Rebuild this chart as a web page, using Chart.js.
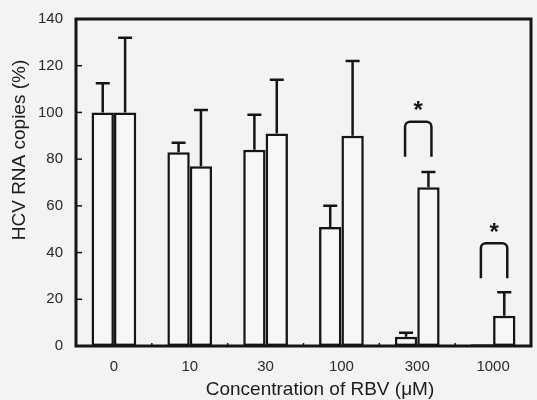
<!DOCTYPE html>
<html>
<head>
<meta charset="utf-8">
<script src="https://cdn.jsdelivr.net/npm/chart.js@4.4.0/dist/chart.umd.min.js"></script>
<style>
  html, body { margin: 0; padding: 0; background: #f3f3f2; }
  #wrap { width: 537px; height: 400px; position: relative; }
</style>
</head>
<body>
<div id="wrap"><canvas id="chart"></canvas></div>
<script>
// RBV concentrations (uM)
const categories = ['0', '10', '30', '100', '300', '1000'];
// left bars / right bars, mean % and upper error (SD)
const meanA = [100, 83, 84, 51, 4, 0.8];
const sdA = [12.5, 4, 15, 9, 1.7, 0];
const meanB = [100, 77, 91, 90, 68, 13];
const sdB = [32, 24, 23, 32, 6.5, 10];
const yTicks = [0, 20, 40, 60, 80, 100, 120, 140];
// significance brackets
const sigCategory = ['300', '1000'];
const sigTop = [96, 44];
const sigLeg = [81, 29];

const yTitle = 'HCV RNA copies (%)';
const xTitle = 'Concentration of RBV (\u03bcM)';
const ink = '#151515';
const fontFam = '"Liberation Sans", Arial, sans-serif';

const extras = {
  id: 'extras',
  afterDatasetsDraw(chart) {
    const ctx = chart.ctx;
    const y = chart.scales.y;
    const x = chart.scales.x;
    const area = chart.chartArea;
    ctx.save();
    ctx.strokeStyle = ink;
    ctx.lineWidth = 2.5;
    // error bars (upper only)
    [sdA, sdB].forEach((sd, di) => {
      const means = chart.data.datasets[di].data;
      chart.getDatasetMeta(di).data.forEach((bar, i) => {
        if (!sd[i]) return;
        const top = y.getPixelForValue(means[i] + sd[i]);
        ctx.beginPath();
        ctx.moveTo(bar.x, bar.y);
        ctx.lineTo(bar.x, top);
        ctx.moveTo(bar.x - 7, top);
        ctx.lineTo(bar.x + 7, top);
        ctx.stroke();
      });
    });
    // brackets + stars
    sigCategory.forEach((cat, k) => {
      const i = categories.indexOf(cat);
      const x1 = chart.getDatasetMeta(0).data[i].x - 1;
      const x2 = chart.getDatasetMeta(1).data[i].x + 3;
      const yt = y.getPixelForValue(sigTop[k]);
      const yl = y.getPixelForValue(sigLeg[k]);
      ctx.lineWidth = 2.5;
      ctx.beginPath();
      ctx.moveTo(x1, yl);
      ctx.arcTo(x1, yt, x2, yt, 5);
      ctx.arcTo(x2, yt, x2, yl, 5);
      ctx.lineTo(x2, yl);
      ctx.stroke();
      ctx.fillStyle = ink;
      ctx.font = 'bold 24px ' + fontFam;
      ctx.textAlign = 'center';
      ctx.textBaseline = 'middle';
      ctx.fillText('*', (x1 + x2) / 2, yt - 10);
    });
    // frame
    ctx.lineWidth = 3;
    ctx.strokeRect(area.left, area.top, area.right - area.left, area.bottom - area.top);
    // inner ticks
    ctx.lineWidth = 1.5;
    yTicks.forEach(v => {
      const py = y.getPixelForValue(v);
      ctx.beginPath();
      ctx.moveTo(area.left, py);
      ctx.lineTo(area.left + 6, py);
      ctx.stroke();
    });
    for (let i = 1; i < categories.length; i++) {
      const px = (x.getPixelForValue(i - 1) + x.getPixelForValue(i)) / 2;
      ctx.beginPath();
      ctx.moveTo(px, area.bottom);
      ctx.lineTo(px, area.bottom - 3);
      ctx.stroke();
    }
    // axis titles
    ctx.fillStyle = '#1c1c1c';
    ctx.font = '19px ' + fontFam;
    ctx.textAlign = 'center';
    ctx.textBaseline = 'middle';
    ctx.fillText(xTitle, 320, 390);
    ctx.translate(20, 150);
    ctx.rotate(-Math.PI / 2);
    ctx.fillText(yTitle, 0, 0);
    ctx.restore();
  }
};

new Chart(document.getElementById('chart'), {
  type: 'bar',
  data: {
    labels: categories,
    datasets: [
      { data: meanA, backgroundColor: 'rgba(250,250,250,0.6)', borderColor: ink, borderWidth: 2.5, borderSkipped: false },
      { data: meanB, backgroundColor: 'rgba(250,250,250,0.6)', borderColor: ink, borderWidth: 2.5, borderSkipped: false }
    ]
  },
  options: {
    responsive: true,
    maintainAspectRatio: false,
    animation: false,
    layout: { padding: { left: 0, right: 6, top: 19, bottom: 0 } },
    plugins: { legend: { display: false }, tooltip: { enabled: false } },
    datasets: { bar: { barPercentage: 1, categoryPercentage: 0.59 } },
    scales: {
      x: {
        grid: { display: false },
        border: { display: false },
        ticks: { color: '#2a2a2a', font: { size: 15, family: fontFam }, padding: 4 },
        afterFit(scale) { scale.height = 54; }
      },
      y: {
        min: 0,
        max: 140,
        grid: { display: false },
        border: { display: false },
        afterBuildTicks(scale) { scale.ticks = yTicks.map(v => ({ value: v })); },
        ticks: { color: '#2a2a2a', font: { size: 15, family: fontFam }, padding: 5 },
        afterFit(scale) { scale.width = 76; }
      }
    }
  },
  plugins: [extras]
});
</script>
</body>
</html>
